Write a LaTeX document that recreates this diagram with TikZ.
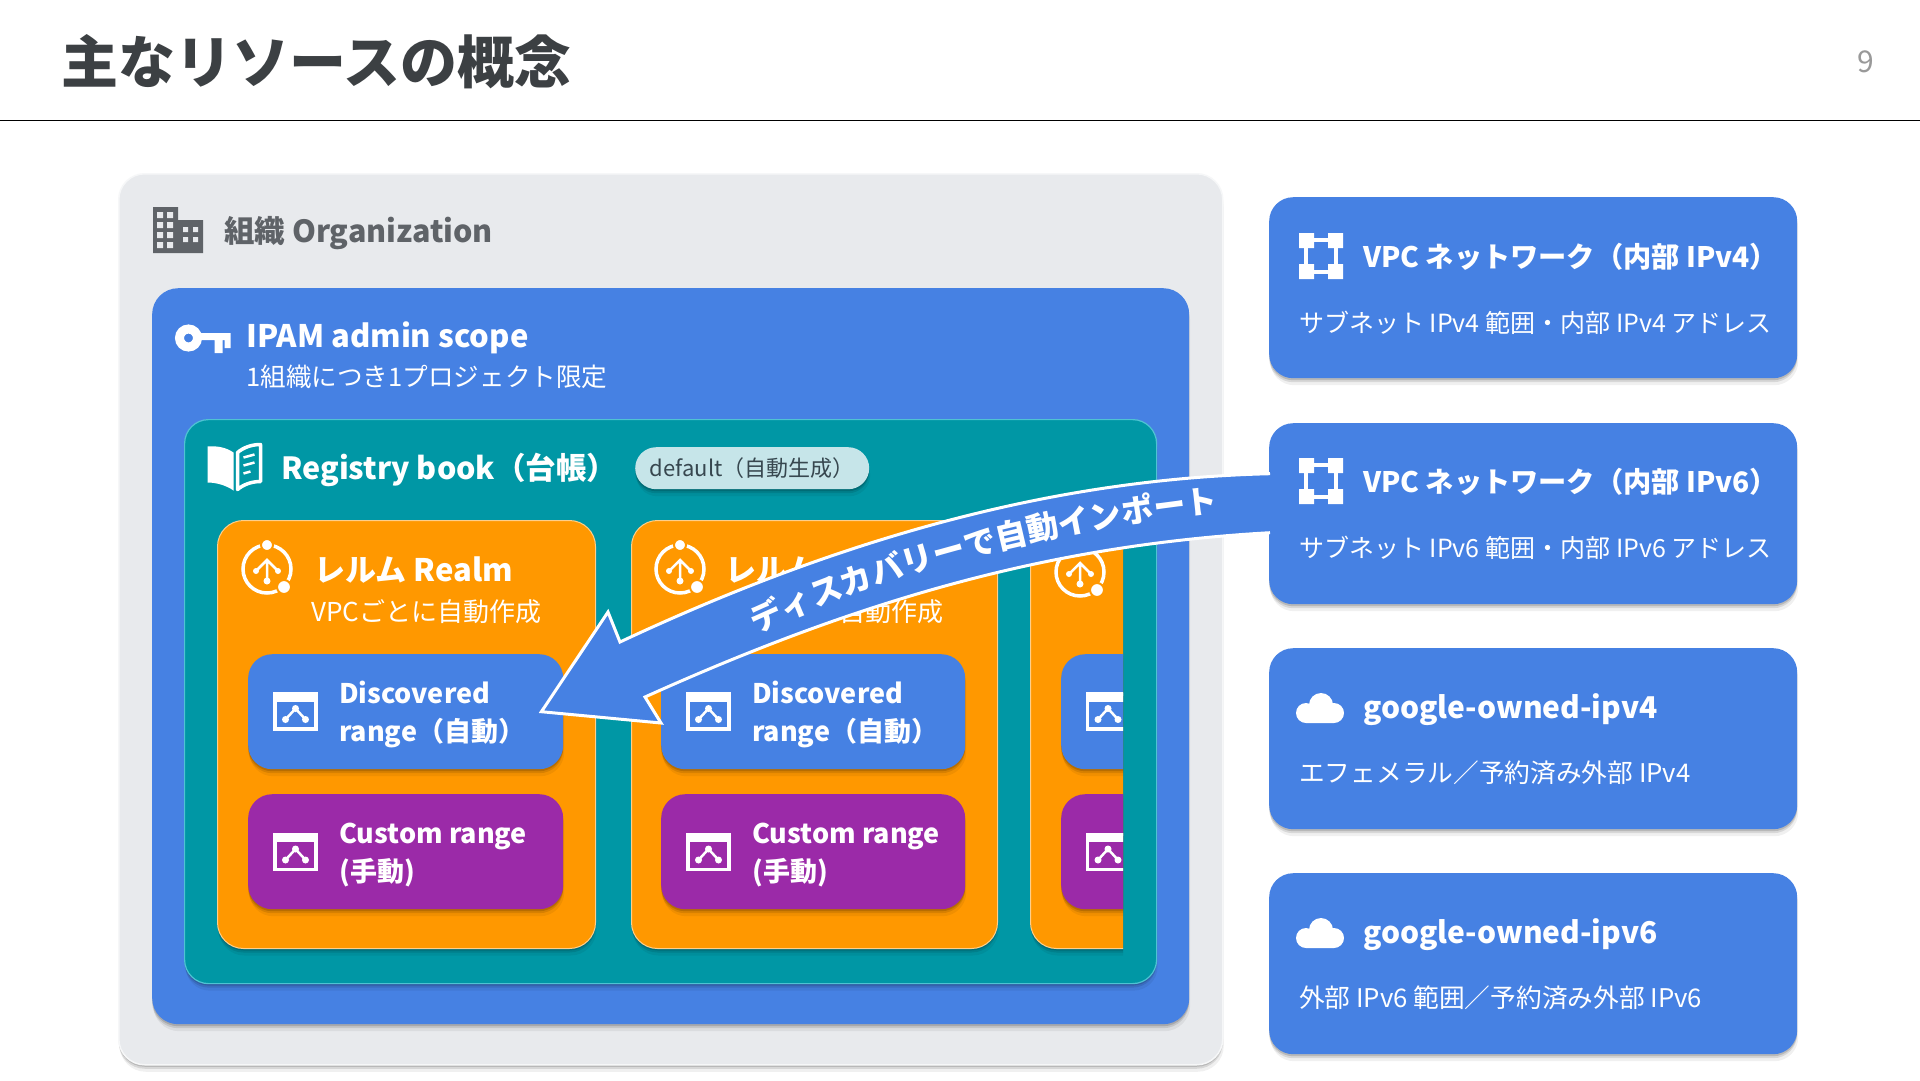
\documentclass[tikz,border=0pt]{standalone}
\usepackage{fontspec}
\setmainfont{Noto Sans CJK JP}
\usetikzlibrary{shadows,calc,decorations.text}

\definecolor{orgfill}{HTML}{E8EAED}
\definecolor{orgline}{HTML}{F6F7F8}
\definecolor{inkgray}{HTML}{5F6368}
\definecolor{titleink}{HTML}{3C4043}
\definecolor{gblue}{HTML}{4681E3}
\definecolor{gteal}{HTML}{0097A5}
\definecolor{tealline}{HTML}{4FC3D3}
\definecolor{gorange}{HTML}{FF9800}
\definecolor{orangeline}{HTML}{FFCF8A}
\definecolor{gpurple}{HTML}{9B2AA8}
\definecolor{pillfill}{HTML}{C6E5E9}
\definecolor{pillink}{HTML}{37474F}

\tikzset{
    softshadow/.style={
        drop shadow={shadow xshift=0pt, shadow yshift=-2pt, fill=black, opacity=.14},
        drop shadow={shadow xshift=0pt, shadow yshift=-4pt, fill=black, opacity=.10},
        drop shadow={shadow xshift=1pt, shadow yshift=-7pt, fill=black, opacity=.06}},
    panel/.style={rectangle, anchor=north west, inner sep=0pt, softshadow},
    orgbox/.style={panel, fill=orgfill, draw=orgline, line width=1.5pt, rounded corners=26pt},
    scopebox/.style={panel, fill=gblue, rounded corners=26pt},
    bookbox/.style={panel, fill=gteal, draw=tealline, line width=1.2pt, rounded corners=24pt},
    realmbox/.style={panel, fill=gorange, draw=orangeline, line width=1pt, rounded corners=26pt},
    discbox/.style={panel, fill=gblue, rounded corners=24pt},
    custombox/.style={panel, fill=gpurple, rounded corners=24pt},
    sidebox/.style={panel, fill=gblue, rounded corners=24pt},
    pillbox/.style={panel, fill=pillfill, text=pillink, rounded corners=21pt, font=\fontsize{22}{26}\selectfont},
    head/.style={anchor=west, inner sep=0pt, text=white, font=\bfseries\fontsize{31}{36}\selectfont},
    note/.style={anchor=west, inner sep=0pt, text=white, font=\fontsize{26}{30}\selectfont},
    rangetext/.style={anchor=west, inner sep=0pt, text=white, align=left, font=\bfseries\fontsize{27}{38}\selectfont},
    sidehead/.style={anchor=west, inner sep=0pt, text=white, font=\bfseries\fontsize{28.2}{34}\selectfont},
    ownedhead/.style={anchor=west, inner sep=0pt, text=white, font=\bfseries\fontsize{30}{34}\selectfont},
    sidenote/.style={anchor=west, inner sep=0pt, text=white, font=\fontsize{25}{30}\selectfont},
    ownednote/.style={anchor=west, inner sep=0pt, text=white, font=\fontsize{25.7}{30}\selectfont},
    buildingicon/.pic={
        \fill[inkgray] (0,0) rectangle (25,46) (25,13) rectangle (50,46);
        \fill[orgfill] (4,5) rectangle +(6,6) (14,5) rectangle +(6,6)
            (4,15) rectangle +(6,6) (14,15) rectangle +(6,6)
            (4,25) rectangle +(6,6) (14,25) rectangle +(6,6)
            (4,35) rectangle +(6,6) (14,35) rectangle +(6,6)
            (30,20) rectangle +(5,5) (40,20) rectangle +(5,5)
            (30,30) rectangle +(5,5) (40,30) rectangle +(5,5);
    },
    keyicon/.pic={
        \draw[white, line width=9pt] (0,0) circle[radius=9pt];
        \fill[white] (12,-5) rectangle (42,2) (26,0) rectangle (34,15) (36,0) rectangle (42,10);
    },
    bookicon/.pic={
        \fill[white] (-27,-20) .. controls (-18,-21) and (-8,-19) .. (-1,-14) -- (-1,24)
            .. controls (-8,19) and (-18,16) .. (-27,16) -- cycle;
        \draw[white, line width=3.5pt, line join=round] (3,-14) .. controls (9,-19) and (17,-22) .. (26,-22)
            -- (26,15) .. controls (17,15) and (9,18) .. (3,23) -- cycle;
        \draw[white, line width=2.5pt] (9,-9) -- (20,-12) (9,-1) -- (20,-4) (9,7) -- (16,5);
    },
    realmicon/.pic={
        \draw[white, line width=3.5pt] (0,0) circle[radius=24pt];
        \fill[white, draw=gorange, line width=2pt] (0,-24) circle[radius=6pt] (17,18) circle[radius=7pt];
        \draw[white, line width=2.5pt] (0,12) -- (0,-9) (-11,2) -- (0,-9) -- (11,2);
        \fill[white] (0,12) circle[radius=3.5pt] (-11,2) circle[radius=3pt] (11,2) circle[radius=3pt];
    },
    rangeicon/.pic={
        \draw[white, line width=3.5pt] (-20.5,-17.5) rectangle (20.5,17.5);
        \fill[white] (-22,-19) rectangle (22,-10);
        \draw[white, line width=2.5pt] (-10,8) -- (0,-3) -- (10,8);
        \fill[white] (-10,8) circle[radius=3.5pt] (0,-3) circle[radius=3.5pt] (10,8) circle[radius=3.5pt];
    },
    vpcicon/.pic={
        \draw[white, line width=4pt] (-15,-16) rectangle (15,16);
        \fill[white] (-22,-23) rectangle +(15,15) (7,-23) rectangle +(15,15)
            (-22,8) rectangle +(15,15) (7,8) rectangle +(15,15);
    },
    cloudicon/.pic={
        \fill[white] (-14,5) circle[radius=10pt] (1,-3) circle[radius=12pt] (14,5) circle[radius=10pt]
            (-14,3) rectangle (14,15);
    }
}

\begin{document}
\begin{tikzpicture}[x=1pt, y=-1pt]
    \useasboundingbox[fill=white] (0,0) rectangle (1920,1080);

    \node[anchor=west, inner sep=0pt, text=titleink, font=\bfseries\fontsize{57}{64}\selectfont] (pagetitle) at (61,62) {主なリソースの概念};
    \node[inner sep=0pt, text=gray!80, font=\fontsize{30}{34}\selectfont] (pagenum) at (1866,62) {9};
    \coordinate (ruleleft) at (0,120.5);
    \coordinate (ruleright) at (1920,120.5);
    \draw[black, line width=1.5pt] (ruleleft) -- (ruleright);

    \node[orgbox, minimum width=1104pt, minimum height=891pt] (org) at (118,173) {};
    \pic at (153,207) {buildingicon};
    \node[anchor=west, inner sep=0pt, text=inkgray, font=\bfseries\fontsize{30.5}{36}\selectfont] (orglabel) at (224,233) {組織 Organization};

    \node[scopebox, minimum width=1037pt, minimum height=736pt] (scope) at (152,288) {};
    \pic at (188.5,338) {keyicon};
    \node[head] (scopelabel) at (246,338) {IPAM admin scope};
    \node[note, font=\fontsize{25.6}{30}\selectfont] (scopenote) at (246,377) {1組織につき1プロジェクト限定};

    \node[bookbox, minimum width=972pt, minimum height=564pt] (book) at (184,419) {};
    \pic at (234.5,466.5) {bookicon};
    \node[head, font=\bfseries\fontsize{30.5}{36}\selectfont] (booklabel) at (281,470) {Registry book（台帳）};
    \node[pillbox, minimum width=234pt, minimum height=42pt] (pill) at (635,447) {default（自動生成）};

    \node[realmbox, minimum width=378pt, minimum height=428pt] (realmone) at (217,520) {};
    \pic at (267,569) {realmicon};
    \node[head] (realmonelabel) at (314,570) {レルム Realm};
    \node[note] (realmonenote) at (311,612) {VPCごとに自動作成};
    \node[discbox, minimum width=315pt, minimum height=115pt] (discone) at (248,654) {};
    \pic at (295.5,711.5) {rangeicon};
    \node[rangetext] (disconetext) at (339,714) {Discovered\\range（自動）};
    \node[custombox, minimum width=315pt, minimum height=115pt] (customone) at (248,794) {};
    \pic at (295.5,852) {rangeicon};
    \node[rangetext] (customonetext) at (339,855) {Custom range\\(手動)};

    \node[realmbox, minimum width=366pt, minimum height=428pt] (realmtwo) at (631,520) {};
    \pic at (680,569) {realmicon};
    \node[head] (realmtwolabel) at (725,570) {レルム Realm};
    \node[note] (realmtwonote) at (713,612) {VPCごとに自動作成};
    \node[discbox, minimum width=304pt, minimum height=115pt] (disctwo) at (661,654) {};
    \pic at (708.5,711.5) {rangeicon};
    \node[rangetext] (disctwotext) at (752,714) {Discovered\\range（自動）};
    \node[custombox, minimum width=304pt, minimum height=115pt] (customtwo) at (661,794) {};
    \pic at (708.5,852) {rangeicon};
    \node[rangetext] (customtwotext) at (752,855) {Custom range\\(手動)};

    \begin{scope}
    \clip (1000,500) rectangle (1123,975);
    \node[realmbox, minimum width=200pt, minimum height=428pt] (realmthree) at (1030,520) {};
    \pic at (1080,572) {realmicon};
    \node[discbox, minimum width=150pt, minimum height=115pt] (discthree) at (1061,654) {};
    \pic at (1108,711.5) {rangeicon};
    \node[custombox, minimum width=150pt, minimum height=115pt] (customthree) at (1061,794) {};
    \pic at (1108,852) {rangeicon};
    \end{scope}

    \node[sidebox, minimum width=528pt, minimum height=181pt] (vpcfour) at (1269,197) {};
    \pic at (1321,256) {vpcicon};
    \node[sidehead] (vpcfourlabel) at (1363,257) {VPC ネットワーク（内部 IPv4）};
    \node[sidenote] (vpcfournote) at (1299,323) {サブネット IPv4 範囲・内部 IPv4 アドレス};

    \node[sidebox, minimum width=528pt, minimum height=181pt] (vpcsix) at (1269,423) {};
    \pic at (1321,481) {vpcicon};
    \node[sidehead] (vpcsixlabel) at (1363,482) {VPC ネットワーク（内部 IPv6）};
    \node[sidenote] (vpcsixnote) at (1299,548) {サブネット IPv6 範囲・内部 IPv6 アドレス};

    \node[sidebox, minimum width=528pt, minimum height=181pt] (ownedfour) at (1269,648) {};
    \pic at (1320,708) {cloudicon};
    \node[ownedhead] (ownedfourlabel) at (1363,710) {google-owned-ipv4};
    \node[ownednote] (ownedfournote) at (1299,773) {エフェメラル／予約済み外部 IPv4};

    \node[sidebox, minimum width=528pt, minimum height=181pt] (ownedsix) at (1269,873) {};
    \pic at (1320,933) {cloudicon};
    \node[ownedhead] (ownedsixlabel) at (1363,935) {google-owned-ipv6};
    \node[ownednote] (ownedsixnote) at (1299,998) {外部 IPv6 範囲／予約済み外部 IPv6};

    \coordinate (tailtop) at ($(vpcsix.west)+(1pt,40pt)$);
    \coordinate (tailbottom) at ($(vpcsix.west)+(1pt,-19pt)$);
    \coordinate (arrowtip) at ($(discone.east)+(-22pt,0pt)$);
    \draw[white, line width=3pt, fill=gblue, line join=miter] (tailtop)
        .. controls (1090,478) and (880,520) .. (620,642) -- (608,612) -- (arrowtip) -- (661,723) -- (645,697)
        .. controls (860,600) and (1050,545) .. (tailbottom);
    \path[decorate, decoration={text along path, text align=center, text color=white,
        text={|\bfseries\fontsize{32}{36}\selectfont|ディスカバリーで自動インポート}}]
        (755,634) .. controls (882,574) and (1052,529) .. (1220,512);
\end{tikzpicture}
\end{document}
